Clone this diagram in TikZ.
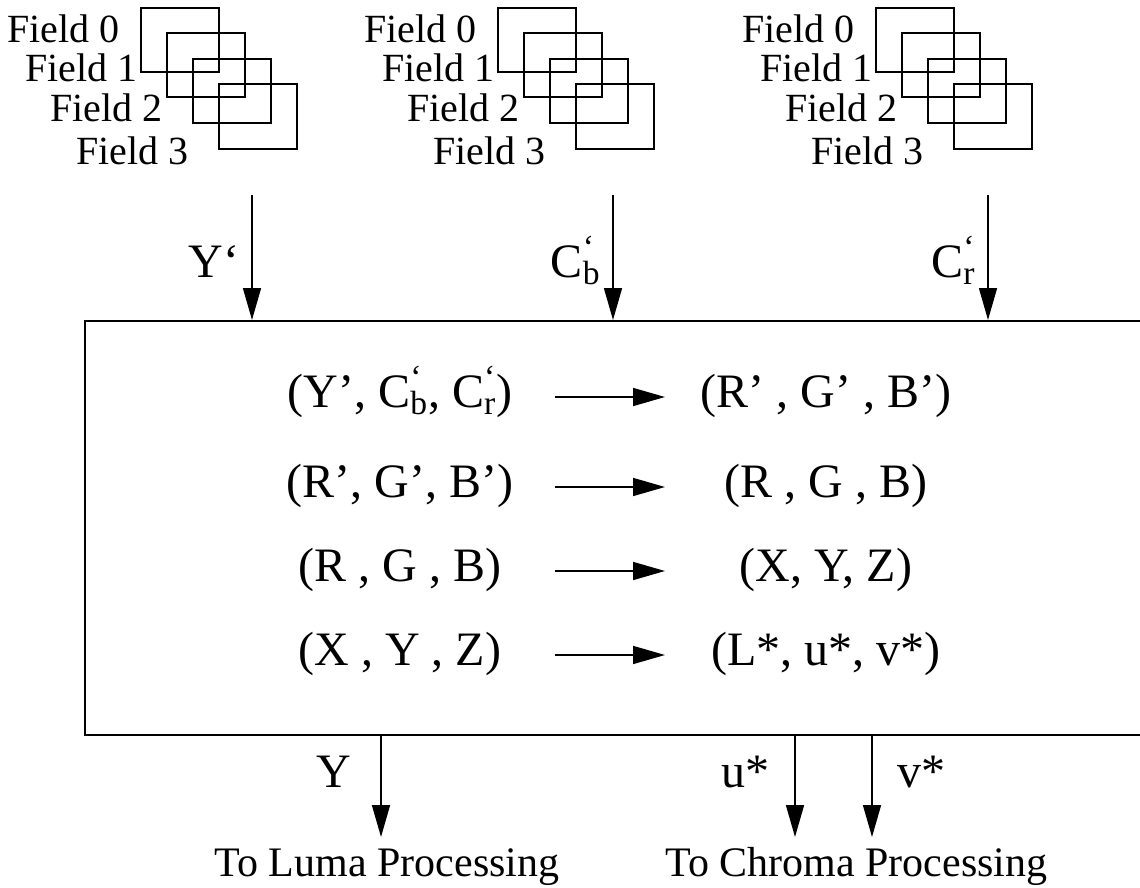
\documentclass[tikz,border=0pt]{standalone}
\usepackage{fontspec}
\setmainfont{Liberation Serif}
\usetikzlibrary{arrows.meta}
\tikzset{%
    fld/.style={draw, line width=1pt, minimum width=39pt, minimum height=32pt, inner sep=0pt, anchor=north west},
    flab/.style={font=\fontsize{20}{24}\selectfont, inner sep=0pt, anchor=base west},
    big/.style={font=\fontsize{24}{28}\selectfont, inner sep=0pt},
    dest/.style={font=\fontsize{21}{25}\selectfont, inner sep=0pt},
    pra/.style={line width=0.8pt, -{Triangle[length=16pt, width=9pt]}}
}
\newcommand{\qsub}[1]{\rlap{\textsuperscript{‘}}\textsubscript{#1}}

\begin{document}
\begin{tikzpicture}[x=0.5pt, y=-0.5pt]
    \useasboundingbox (0,0) rectangle (1140,888);
    \foreach \sx/\n in {140/a, 497/b, 875/c}{
        \foreach \k in {0,...,3}
            \node[fld] (\n\k) at (\sx+26*\k, 7+25.5*\k) {};
        \foreach \k/\dx/\yb in {0/-133/43, 1/-115/82, 2/-90/121, 3/-64/164}
            \node[flab] (\n t\k) at (\sx+\dx, \yb) {Field \k};
    }
    \node[draw, line width=1pt, minimum width=537.5pt, minimum height=207pt, inner sep=0pt] (box) at (622.5,528) {};
    \coordinate (iY) at (252,195);
    \coordinate (iCb) at (613,195);
    \coordinate (iCr) at (988,195);
    \draw[pra] (iY) -- (iY |- box.north);
    \draw[pra] (iCb) -- (iCb |- box.north);
    \draw[pra] (iCr) -- (iCr |- box.north);
    \node[big, anchor=base east] (lY) at (240,277) {Y‘};
    \node[big, anchor=base east] (lCb) at (601,277) {C\qsub{b}};
    \node[big, anchor=base east] (lCr) at (976,277) {C\qsub{r}};
    \foreach \i/\yy/\lt/\rt in {1/397/{(Y’, C\qsub{b}, C\qsub{r})}/{(R’ , G’ , B’)},
                                2/487/{(R’, G’, B’)}/{(R , G , B)},
                                3/571/{(R , G , B)}/{(X, Y, Z)},
                                4/655/{(X , Y , Z)}/{(L*, u*, v*)}}{
        \node[big, anchor=base] (from\i) at (400,\yy+10) {\lt};
        \node[big, anchor=base] (to\i) at (826,\yy+10) {\rt};
        \coordinate (s\i) at (555,\yy);
        \coordinate (e\i) at (665,\yy);
        \draw[pra] (s\i) -- (e\i);
    }
    \coordinate (oY) at (381,837);
    \coordinate (ou) at (795,837);
    \coordinate (ov) at (872,837);
    \draw[pra] (box.south -| oY) -- (oY);
    \draw[pra] (box.south -| ou) -- (ou);
    \draw[pra] (box.south -| ov) -- (ov);
    \node[big, anchor=base east] (lYo) at (352,787) {Y};
    \node[big, anchor=base east] (lu) at (770,787) {u*};
    \node[big, anchor=base west] (lv) at (897,787) {v*};
    \node[dest, anchor=base] (luma) at (387,876) {To Luma Processing};
    \node[dest, anchor=base west] (chroma) at (665,876) {To Chroma Processing};
\end{tikzpicture}
\end{document}
